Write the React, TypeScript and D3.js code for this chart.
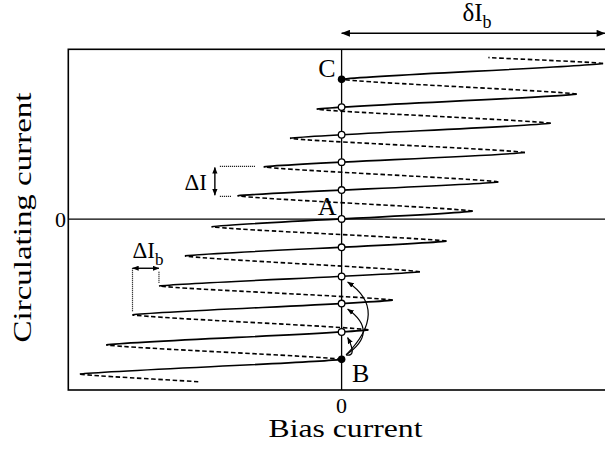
import React from "react";
import * as d3 from "d3";

// Turning points of the sheared, multivalued I(Ib) curve
// Bias current in units of ΔIb, circulating current in units of ΔI.
const leftTipX = [-9.99, -8.98, -7.98, -6.97, -5.98, -4.96, -3.97, -2.97, -1.97, -0.95, 0];
const leftTipY = [-5.26, -4.27, -3.25, -2.27, -1.25, -0.26, 0.79, 1.77, 2.74, 3.73, 4.74];
const rightTipX = [0, 1.02, 1.95, 2.99, 4.0, 5.0, 5.98, 7.0, 7.98, 8.97, 9.98];
const rightTipY = [-4.76, -3.76, -2.75, -1.79, -0.75, 0.27, 1.26, 2.26, 3.25, 4.24, 5.28];
const curveStart: [number, number] = [-5.47, -5.52];
const curveEnd: [number, number] = [5.6, 5.48];

const xTickLabels = ["0"];
const yTickLabels = ["0"];
const pointLabels = ["A", "B", "C"];

const W = 605;
const H = 450;
const FONT = "'Liberation Serif', 'Times New Roman', Times, serif";

type P = [number, number];

export default function App() {
  const x = d3.scaleLinear().domain([-10.43, 10.43]).range([68.3, 614.9]);
  const y = d3.scaleLinear().domain([-5.8, 5.76]).range([390, 49.3]);
  const px = (d: P): P => [x(d[0]), y(d[1])];

  const L = leftTipX.map((v, i) => [v, leftTipY[i]] as P);
  const R = rightTipX.map((v, i) => [v, rightTipY[i]] as P);

  // a branch between two points; ends that are turning points get a hairpin bend
  const makeSeg = (a: P, b: P, tipA: boolean, tipB: boolean) => {
    const p0 = px(a);
    const p3 = px(b);
    const dx = p3[0] - p0[0];
    const dy = p3[1] - p0[1];
    const fa: P = tipA ? [0.1, 0.24] : [1 / 3, 1 / 3];
    const fb: P = tipB ? [0.1, 0.24] : [1 / 3, 1 / 3];
    const p1: P = [p0[0] + fa[0] * dx, p0[1] + fa[1] * dy];
    const p2: P = [p3[0] - fb[0] * dx, p3[1] - fb[1] * dy];
    const path = d3.path();
    path.moveTo(p0[0], p0[1]);
    path.bezierCurveTo(p1[0], p1[1], p2[0], p2[1], p3[0], p3[1]);
    return { pts: [p0, p1, p2, p3] as P[], d: path.toString() };
  };
  const bez = (pts: P[], t: number): P => {
    const u = 1 - t;
    const a = u * u * u, b = 3 * u * u * t, c = 3 * u * t * t, e = t * t * t;
    return [
      a * pts[0][0] + b * pts[1][0] + c * pts[2][0] + e * pts[3][0],
      a * pts[0][1] + b * pts[1][1] + c * pts[2][1] + e * pts[3][1],
    ];
  };

  const solid = L.map((l, i) => makeSeg(l, R[i], true, true));
  const dashed = [makeSeg(curveStart, L[0], false, true)];
  for (let i = 0; i < R.length - 1; i++) dashed.push(makeSeg(R[i], L[i + 1], true, true));
  dashed.push(makeSeg(R[R.length - 1], curveEnd, true, false));

  const x0 = x(0);
  const y0 = y(0);

  // crossings of stable branches with Ib = 0 (pixel y)
  const crossings = solid.slice(1, solid.length - 1).map((s) => {
    let lo = 0, hi = 1;
    for (let k = 0; k < 40; k++) {
      const mid = (lo + hi) / 2;
      if (bez(s.pts, mid)[0] < x0) lo = mid;
      else hi = mid;
    }
    return bez(s.pts, (lo + hi) / 2)[1];
  });
  const B = px(R[0]);
  const C = px(L[L.length - 1]);

  // curved transition arrows from B to the first three states
  const arcs = [
    { target: crossings[0], bulge: 16, cyOff: 11 },
    { target: crossings[1], bulge: 38, cyOff: 0 },
    { target: crossings[2], bulge: 48, cyOff: -8 },
  ].map((a) => {
    const sx = x0 + 4.5;
    const sy = B[1] - 4.5;
    const ex = x0 + 6;
    const ey = a.target + 5.5;
    const cx = x0 + a.bulge;
    const cy = (sy + ey) / 2 + a.cyOff;
    return `M${sx},${sy} Q${cx},${cy} ${ex},${ey}`;
  });

  // ΔI annotation (between left tips 6 and 7)
  const dIx = x(L[6][0]) - 22.7;
  const yL6 = y(L[6][1]);
  const yL7 = y(L[7][1]);
  // ΔIb annotation (between left tips 2 and 3)
  const xL2 = x(L[2][0]);
  const xL3 = x(L[3][0]);
  const dIbY = y(L[3][1]) - 17.7;

  return (
    <svg
      width={W}
      height={H}
      viewBox={`0 0 ${W} ${H}`}
      style={{ position: "absolute", left: 0, top: 0, background: "#fff" }}
      fontFamily={FONT}
    >
      <defs>
        <marker
          id="ah"
          viewBox="0 0 10 8"
          refX="9.5"
          refY="4"
          markerWidth="10"
          markerHeight="7"
          markerUnits="userSpaceOnUse"
          orient="auto-start-reverse"
        >
          <path d="M0,0 L10,4 L0,8 Z" fill="#000" />
        </marker>
        <marker
          id="ahs"
          viewBox="0 0 10 8"
          refX="9.5"
          refY="4"
          markerWidth="6.5"
          markerHeight="5.5"
          markerUnits="userSpaceOnUse"
          orient="auto-start-reverse"
        >
          <path d="M0,0 L10,4 L0,8 Z" fill="#000" />
        </marker>
      </defs>
      <rect x={0} y={0} width={W} height={H} fill="#fff" />

      {/* frame */}
      <rect
        x={x(-10.43)}
        y={y(5.76)}
        width={x(10.43) - x(-10.43)}
        height={y(-5.8) - y(5.76)}
        fill="none"
        stroke="#000"
        strokeWidth={1.6}
      />
      {/* zero axes */}
      <line x1={x(-10.43)} x2={x(10.43)} y1={y0} y2={y0} stroke="#000" strokeWidth={1.3} />
      <line x1={x0} x2={x0} y1={y(5.76)} y2={y(-5.8)} stroke="#000" strokeWidth={1.3} />

      {/* stable branches */}
      {solid.map((s, i) => (
        <path key={"s" + i} d={s.d} fill="none" stroke="#000" strokeWidth={1.6} />
      ))}
      {/* unstable branches */}
      {dashed.map((s, i) => (
        <path
          key={"d" + i}
          d={s.d}
          fill="none"
          stroke="#000"
          strokeWidth={1.6}
          strokeDasharray="4.5,2.6"
        />
      ))}

      {/* transition arrows */}
      {arcs.map((d, i) => (
        <path key={"a" + i} d={d} fill="none" stroke="#000" strokeWidth={1.2} markerEnd="url(#ahs)" />
      ))}

      {/* states */}
      {crossings.map((cy, i) => (
        <circle key={"c" + i} cx={x0} cy={cy} r={3.3} fill="#fff" stroke="#000" strokeWidth={1.3} />
      ))}
      <circle cx={B[0]} cy={B[1]} r={3.8} fill="#000" />
      <circle cx={C[0]} cy={C[1]} r={3.8} fill="#000" />

      {/* point labels */}
      <text x={x0 - 5} y={y0 - 4} fontSize={26} textAnchor="end">
        {pointLabels[0]}
      </text>
      <text x={x0 + 10.5} y={B[1] + 22.5} fontSize={26}>
        {pointLabels[1]}
      </text>
      <text x={x0 - 6} y={C[1] - 2.5} fontSize={26} textAnchor="end">
        {pointLabels[2]}
      </text>

      {/* δIb */}
      <line x1={x0} x2={x(10.05)} y1={33.3} y2={33.3} stroke="#000" strokeWidth={1.4} markerStart="url(#ah)" markerEnd="url(#ah)" />
      <text x={462.5} y={21} fontSize={25}>
        δI<tspan fontSize={18} dy={7}>b</tspan>
      </text>

      {/* ΔI */}
      <line x1={dIx} x2={dIx} y1={yL7 + 0.5} y2={yL6 - 0.5} stroke="#000" strokeWidth={1.4} markerStart="url(#ahs)" markerEnd="url(#ahs)" />
      <line x1={dIx + 5} x2={x(L[7][0]) - 8} y1={yL7 - 0.5} y2={yL7 - 0.5} stroke="#000" strokeWidth={1.2} strokeDasharray="1,1" />
      <line x1={dIx + 5} x2={x(L[6][0]) - 6} y1={yL6 + 0.5} y2={yL6 + 0.5} stroke="#000" strokeWidth={1.2} strokeDasharray="1,1" />
      <text x={dIx - 8} y={yL6 - 5.5} fontSize={23} textAnchor="end">
        ΔI
      </text>

      {/* ΔIb */}
      <line x1={xL2} x2={xL3} y1={dIbY} y2={dIbY} stroke="#000" strokeWidth={1.4} markerStart="url(#ahs)" markerEnd="url(#ahs)" />
      <line x1={xL2} x2={xL2} y1={dIbY} y2={y(L[2][1]) - 3} stroke="#000" strokeWidth={1.2} strokeDasharray="1,1" />
      <line x1={xL3} x2={xL3} y1={dIbY + 3.5} y2={y(L[3][1]) - 2.5} stroke="#000" strokeWidth={1.2} strokeDasharray="1,1" />
      <text x={xL2} y={dIbY - 10} fontSize={23}>
        ΔI<tspan fontSize={17} dy={6.5}>b</tspan>
      </text>

      {/* tick labels */}
      <text x={x0} y={412.5} fontSize={22} textAnchor="middle">
        {xTickLabels[0]}
      </text>
      <text x={66} y={227} fontSize={22} textAnchor="end">
        {yTickLabels[0]}
      </text>

      {/* axis titles */}
      <text x={345.5} y={437} fontSize={26} textAnchor="middle" textLength={154} lengthAdjust="spacingAndGlyphs">
        Bias current
      </text>
      <text
        transform={`translate(31,217.5) rotate(-90)`}
        fontSize={26}
        textAnchor="middle"
        textLength={250}
        lengthAdjust="spacingAndGlyphs"
      >
        Circulating current
      </text>
    </svg>
  );
}
